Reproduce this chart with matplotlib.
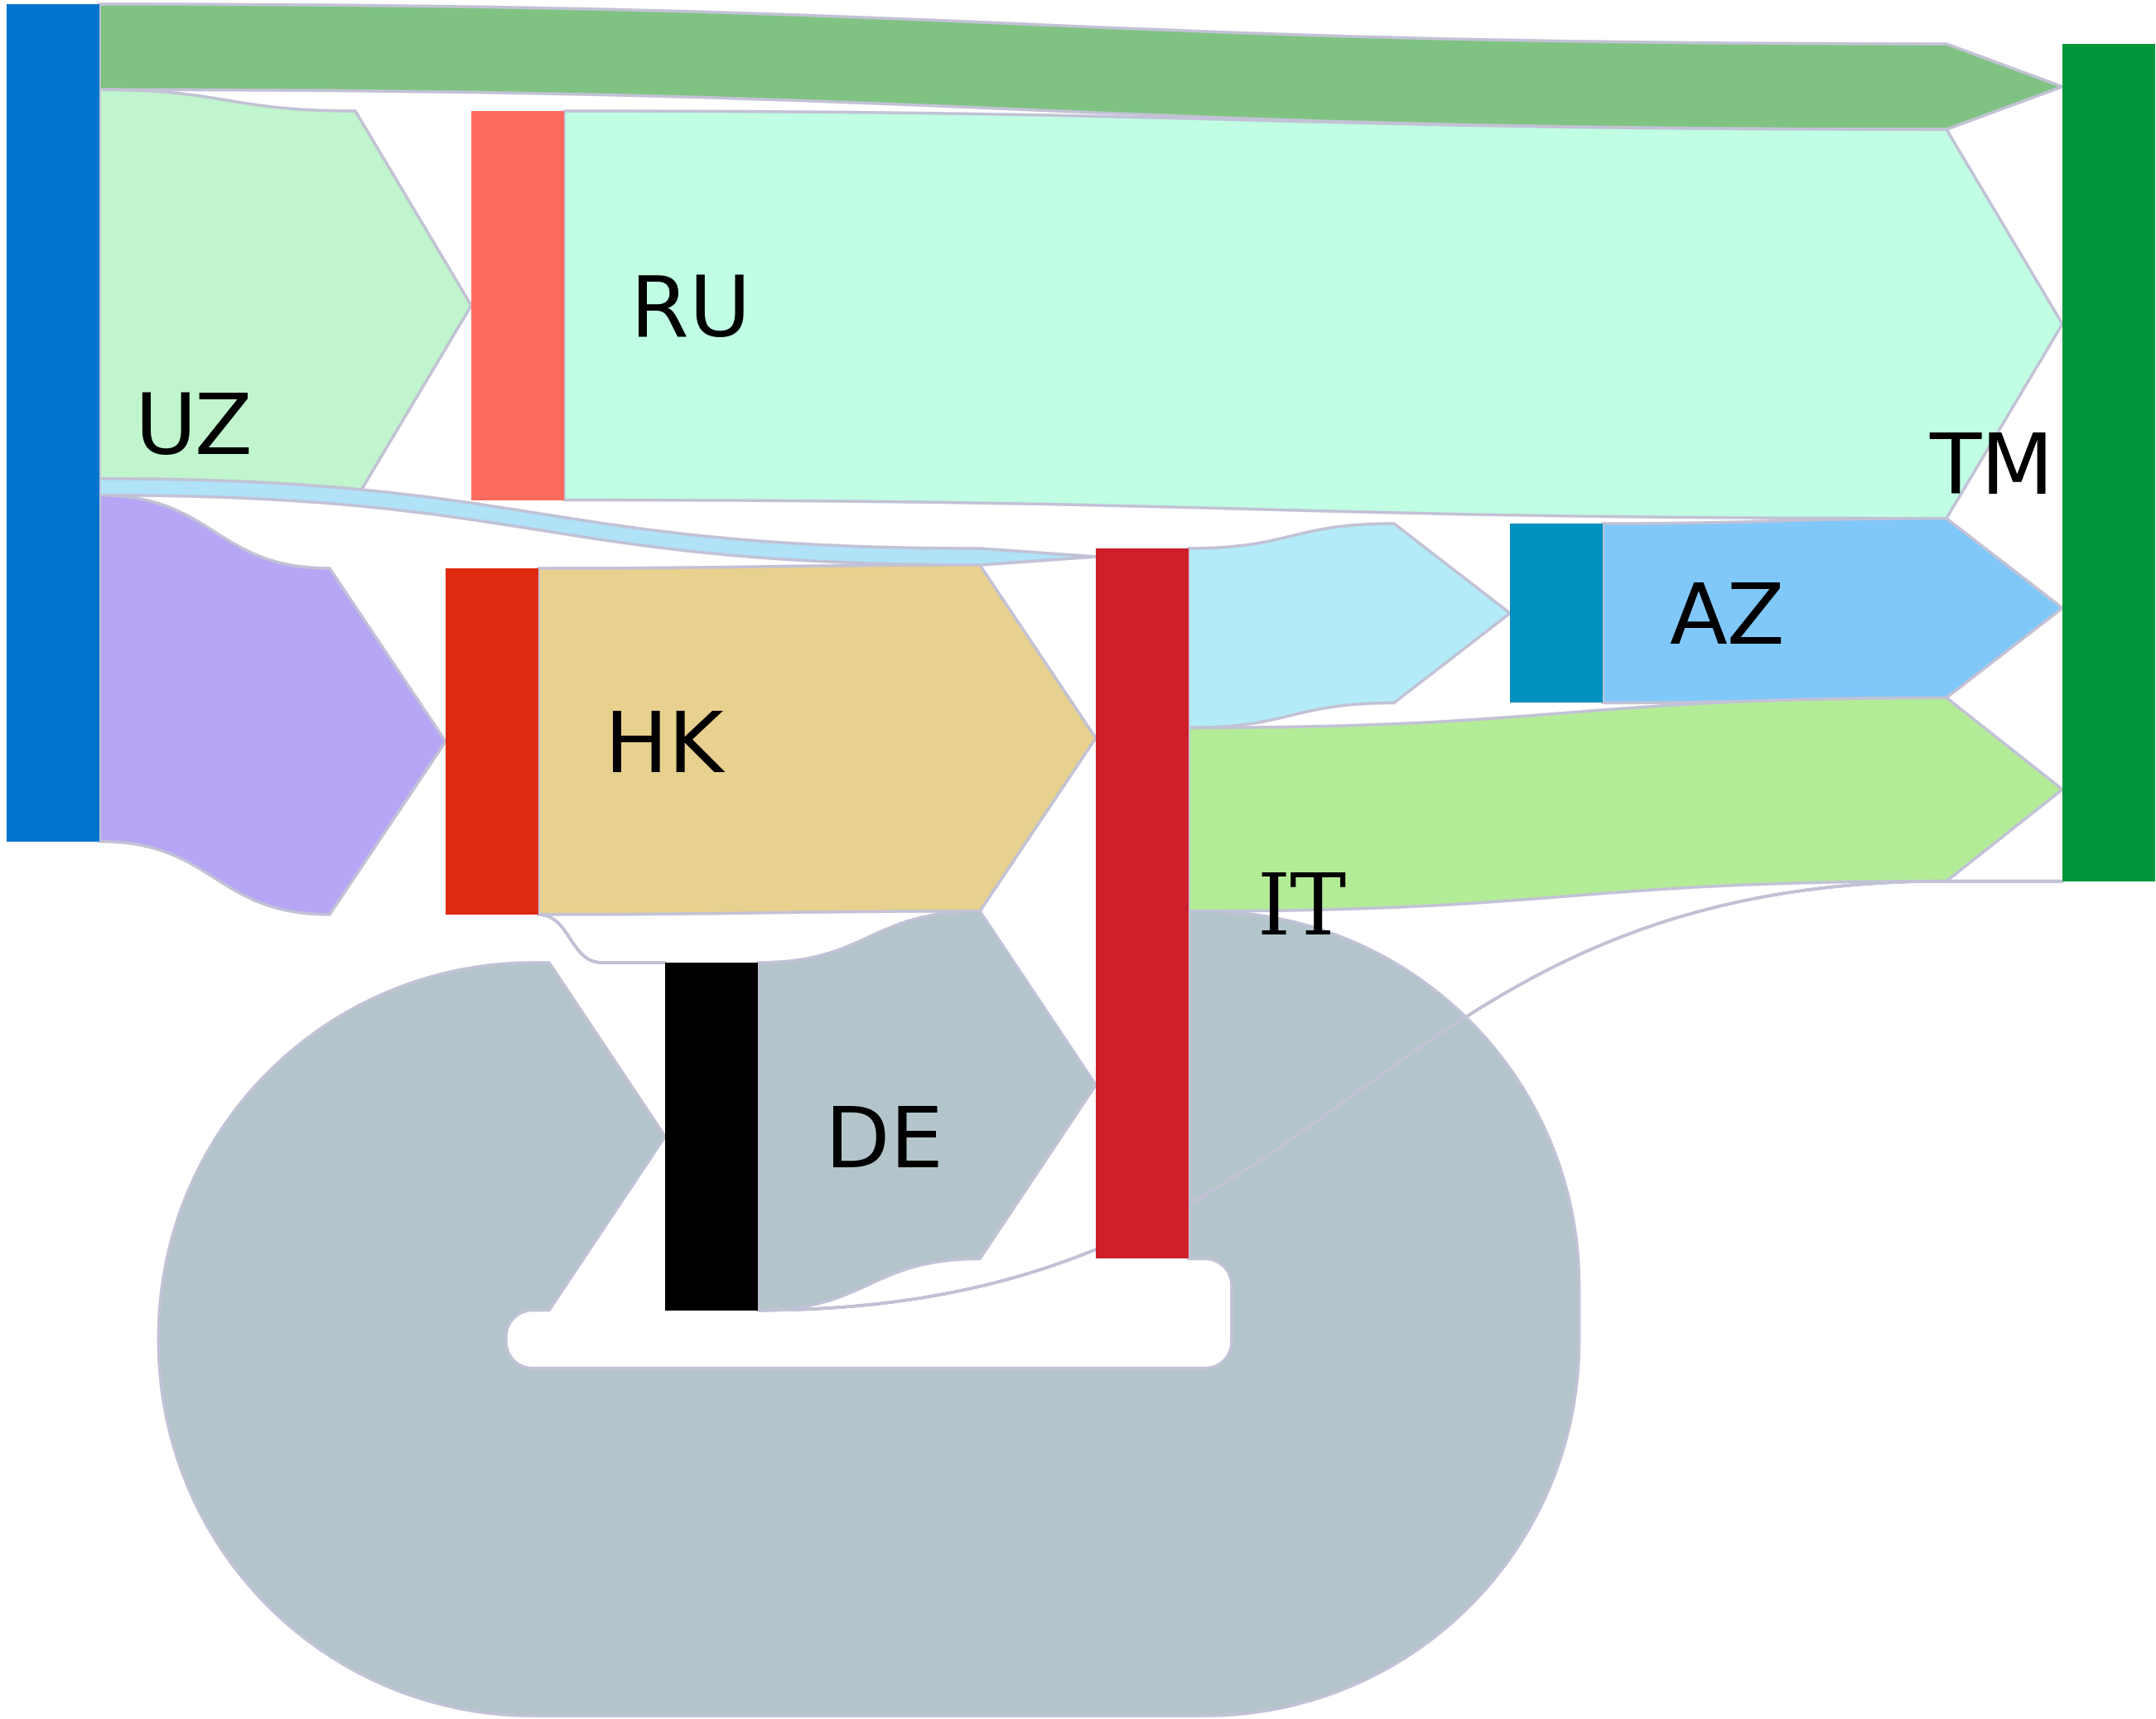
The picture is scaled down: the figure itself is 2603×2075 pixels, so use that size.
import matplotlib

matplotlib.use("Agg")
import matplotlib.pyplot as plt
import numpy as np
from matplotlib.patches import PathPatch, Rectangle
from matplotlib.path import Path

# -----------------------------------------------------------------------------
# Data
# -----------------------------------------------------------------------------
NODES = ["UZ", "RU", "HK", "DE", "IT", "AZ", "TM"]
NODE_COLORS = ["#0074cf", "#ff6a5e", "#de2a10", "#000000", "#ce1f2a", "#0091c0", "#009639"]

LINK_SOURCES = ["UZ", "UZ", "UZ", "UZ", "RU", "HK", "HK", "IT", "IT", "IT", "DE", "DE", "AZ"]
LINK_TARGETS = ["TM", "RU", "IT", "HK", "TM", "IT", "DE", "AZ", "TM", "DE", "IT", "TM", "TM"]
LINK_VALUES = [6.2, 28.2, 1.2, 25.1, 28.2, 25.1, 0.0, 13.0, 13.3, 25.2, 25.2, 0.0, 13.0]
LINK_COLORS = [
    "#80c282", "#c0f5cd", "#b0e2f8", "#b6a6f5", "#c0ffe4", "#e8d08e", "#b3c5ca",
    "#b3ecf8", "#b3ec96", "#b3c5ca", "#b3c5ca", "#b3c5ca", "#80c8fa",
]

# -----------------------------------------------------------------------------
# Layout (pixels, y grows downward)
# -----------------------------------------------------------------------------
W, H = 2603, 2075
SCALE = 16.65          # px per value unit
NODE_W = 112
ARROW = 140
OUTLINE = "#c2c2d6"
OUTLINE_W = 2.6
NODE_LEFT = {"UZ": 8, "RU": 569, "HK": 538, "DE": 803, "IT": 1323, "AZ": 1823, "TM": 2490}
NODE_TOP = {"UZ": 5, "RU": 134, "HK": 686, "DE": 1162, "IT": 662, "AZ": 632, "TM": 53}
OUT_ORDER = {
    "UZ": ["TM", "RU", "IT", "HK"], "RU": ["TM"], "HK": ["IT", "DE"],
    "DE": ["IT", "TM"], "IT": ["AZ", "TM", "DE"], "AZ": ["TM"],
}
IN_ORDER = {
    "RU": ["UZ"], "HK": ["UZ"], "DE": ["HK", "IT"], "IT": ["UZ", "HK", "DE"],
    "AZ": ["IT"], "TM": ["UZ", "RU", "AZ", "IT", "DE"],
}
LABEL_DX = {"UZ": 42, "RU": 80, "HK": 80, "DE": 81, "IT": 82, "AZ": 80, "TM": -10}
FONT_PX = 102
LOOP_GAP = 70
LOOP_R = 32
LOOP_EXT = 20

link_idx = {(s, t): i for i, (s, t) in enumerate(zip(LINK_SOURCES, LINK_TARGETS))}

node_h = {}
for n in NODES:
    out_v = sum(v for s, v in zip(LINK_SOURCES, LINK_VALUES) if s == n)
    in_v = sum(v for t, v in zip(LINK_TARGETS, LINK_VALUES) if t == n)
    node_h[n] = max(out_v, in_v) * SCALE

src_y0, tgt_y0 = {}, {}
for n, order in OUT_ORDER.items():
    y = NODE_TOP[n]
    for t in order:
        i = link_idx[(n, t)]
        src_y0[i] = y
        y += LINK_VALUES[i] * SCALE
for n, order in IN_ORDER.items():
    y = NODE_TOP[n]
    for s in order:
        i = link_idx[(s, n)]
        tgt_y0[i] = y
        y += LINK_VALUES[i] * SCALE


def straight_link(x0, sy0, sy1, tx, ty0, ty1):
    arrow = min(ARROW, abs(tx - x0) / 2)
    x1 = tx - arrow
    xm = (x0 + x1) / 2
    verts = [
        (x0, sy0), (xm, sy0), (xm, ty0), (x1, ty0),
        (tx, (ty0 + ty1) / 2), (x1, ty1),
        (xm, ty1), (xm, sy1), (x0, sy1), (x0, sy0),
    ]
    codes = [Path.MOVETO, Path.CURVE4, Path.CURVE4, Path.CURVE4,
             Path.LINETO, Path.LINETO,
             Path.CURVE4, Path.CURVE4, Path.CURVE4, Path.CLOSEPOLY]
    return Path(verts, codes)


def arc(cx, cy, r, a0, a1, n=40):
    a = np.radians(np.linspace(a0, a1, n))
    return list(zip(cx + r * np.cos(a), cy + r * np.sin(a)))


def circular_link(sx1, sy0, sy1, tx0, ty0, ty1, bottom):
    w = sy1 - sy0
    xa = tx0 - ARROW
    rcx = sx1 + LOOP_EXT
    lcx = xa - LOOP_EXT
    r_in, r_out = LOOP_R, LOOP_R + w
    tr = (rcx, sy1 + r_in)
    br = (rcx, bottom - r_in)
    bl = (lcx, bottom - r_in)
    tl = (lcx, ty1 + r_in)
    pts = [(sx1, sy0)]
    pts += arc(*tr, r_out, -90, 0)
    pts += arc(*br, r_out, 0, 90)
    pts += arc(*bl, r_out, 90, 180)
    pts += arc(*tl, r_out, 180, 270)
    pts += [(xa, ty0), (tx0, (ty0 + ty1) / 2), (xa, ty1)]
    pts += arc(*tl, r_in, 270, 180)
    pts += arc(*bl, r_in, 180, 90)
    pts += arc(*br, r_in, 90, 0)
    pts += arc(*tr, r_in, 0, -90)
    pts += [(sx1, sy1), (sx1, sy0)]
    codes = [Path.MOVETO] + [Path.LINETO] * (len(pts) - 2) + [Path.CLOSEPOLY]
    return Path(pts, codes)


fig = plt.figure(figsize=(W / 100, H / 100), dpi=100)
ax = fig.add_axes([0, 0, 1, 1])
ax.set_xlim(0, W)
ax.set_ylim(H, 0)
ax.axis("off")

loop_bottom = max(NODE_TOP[n] + node_h[n] for n in NODES) + LOOP_GAP

for i, (s, t, v, c) in enumerate(zip(LINK_SOURCES, LINK_TARGETS, LINK_VALUES, LINK_COLORS)):
    w = v * SCALE
    sy0, ty0 = src_y0[i], tgt_y0[i]
    sx1 = NODE_LEFT[s] + NODE_W
    tx0 = NODE_LEFT[t]
    if tx0 < sx1:
        path = circular_link(sx1, sy0, sy0 + w, tx0, ty0, ty0 + w, loop_bottom)
    else:
        path = straight_link(sx1, sy0, sy0 + w, tx0, ty0, ty0 + w)
    if v > 0:
        ax.add_patch(PathPatch(path, facecolor=c, edgecolor=OUTLINE, lw=OUTLINE_W,
                               joinstyle="round", zorder=2))
    else:
        ax.add_patch(PathPatch(path, facecolor="none", edgecolor=OUTLINE, lw=OUTLINE_W,
                               joinstyle="round", zorder=3))

for n, c in zip(NODES, NODE_COLORS):
    ax.add_patch(Rectangle((NODE_LEFT[n], NODE_TOP[n]), NODE_W, node_h[n],
                           facecolor=c, edgecolor="none", zorder=4))
    cy = NODE_TOP[n] + node_h[n] / 2 + 0.365 * FONT_PX
    if LABEL_DX[n] < 0:
        x, ha = NODE_LEFT[n] + LABEL_DX[n], "right"
    else:
        x, ha = NODE_LEFT[n] + NODE_W + LABEL_DX[n], "left"
    family = "DejaVu Serif" if n == "IT" else "DejaVu Sans"
    ax.text(x, cy, n, ha=ha, va="baseline", fontsize=FONT_PX * 0.72,
            family=family, color="black", zorder=5)

fig.savefig("out.png", dpi=100, facecolor="white")
plt.close(fig)
